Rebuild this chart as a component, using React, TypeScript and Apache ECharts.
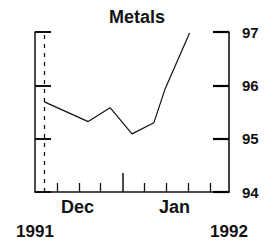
import React, { useEffect, useRef } from "react";
import * as echarts from "echarts";

// days relative to 1 Jan 1992
const days = [-25, -11, -4, 3, 10, 13.5, 21.4];
const values = [95.69, 95.32, 95.58, 95.09, 95.3, 95.92, 96.98];
const weekTicks = [-21, -14, -7, 7, 14, 21, 28];
const monthTick = [0];
const monthLabelPos = [-14.4, 16.6];
const monthLabels = ["Dec", "Jan"];
const yearLabels = ["1991", "1992"];
const title = "Metals";
const markerDay = -25;

const X_MIN = -28;
const X_MAX = 34;

export default function App() {
  const ref = useRef<HTMLDivElement>(null);
  useEffect(() => {
    document.body.style.margin = "0";
    const chart = echarts.init(ref.current!, null, { renderer: "svg" });
    const font = "Liberation Sans";
    const ink = "#111";
    const baseX = {
      type: "value" as const,
      min: X_MIN,
      max: X_MAX,
      position: "bottom" as const,
      splitLine: { show: false },
    };
    chart.setOption({
      animation: false,
      textStyle: { fontFamily: font },
      grid: { left: 35, right: 51, top: 32, bottom: 53 },
      graphic: [
        {
          type: "text",
          x: 137,
          y: 8,
          style: {
            text: title,
            fontSize: 18,
            fontWeight: "bold",
            fontFamily: font,
            fill: ink,
            textAlign: "center",
            textVerticalAlign: "top",
          },
        },
      ],
      xAxis: [
        {
          ...baseX,
          axisLine: { show: true, onZero: false, lineStyle: { color: ink, width: 1.5 } },
          axisTick: {
            show: true,
            inside: true,
            length: 9,
            customValues: weekTicks,
            lineStyle: { color: ink, width: 1.3 },
          },
          axisLabel: {
            show: true,
            customValues: monthLabelPos,
            formatter: (v: number) => monthLabels[monthLabelPos.indexOf(v)] ?? "",
            margin: 6,
            fontSize: 18,
            fontWeight: "bold",
            color: ink,
            fontFamily: font,
          },
        },
        {
          ...baseX,
          axisLine: { show: false, onZero: false },
          axisTick: {
            show: true,
            inside: true,
            length: 19,
            customValues: monthTick,
            lineStyle: { color: ink, width: 1.5 },
          },
          axisLabel: {
            show: true,
            customValues: [X_MIN, X_MAX],
            formatter: (v: number) => (v === X_MIN ? yearLabels[0] : yearLabels[1]),
            margin: 31,
            fontSize: 17,
            fontWeight: "bold",
            color: ink,
            fontFamily: font,
            showMinLabel: true,
            showMaxLabel: true,
          },
        },
      ],
      yAxis: [
        {
          type: "value",
          min: 94,
          max: 97,
          interval: 1,
          splitLine: { show: false },
          position: "right",
          axisLine: { show: true, onZero: false, lineStyle: { color: "#000", width: 1.5 } },
          axisTick: { show: true, inside: true, length: 16, lineStyle: { color: "#000", width: 2.2 } },
          axisLabel: { margin: 13, fontSize: 15, fontWeight: "bold", color: ink, fontFamily: font },
        },
        {
          type: "value",
          min: 94,
          max: 97,
          interval: 1,
          splitLine: { show: false },
          position: "left",
          axisLine: { show: true, onZero: false, lineStyle: { color: ink, width: 1.5 } },
          axisTick: { show: true, inside: true, length: 16, lineStyle: { color: ink, width: 2 } },
          axisLabel: { show: false },
        },
      ],
      series: [
        {
          type: "line",
          xAxisIndex: 0,
          yAxisIndex: 0,
          data: days.map((d, i) => [d, values[i]]),
          symbol: "none",
          lineStyle: { color: ink, width: 1.2 },
          markLine: {
            silent: true,
            symbol: "none",
            label: { show: false },
            lineStyle: { color: ink, type: [4, 5], width: 1.3 },
            data: [{ xAxis: markerDay }],
          },
        },
      ],
    });
    return () => chart.dispose();
  }, []);
  return <div ref={ref} style={{ width: 280, height: 245 }} />;
}
